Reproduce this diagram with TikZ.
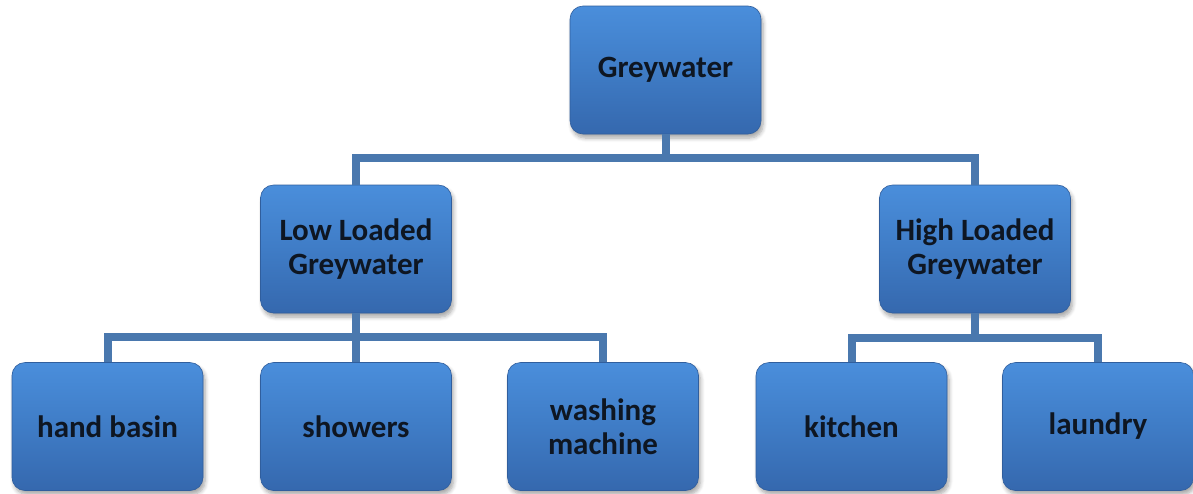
\documentclass[tikz,border=0pt]{standalone}
\usepackage{fontspec}
\setmainfont{Carlito}
\usetikzlibrary{shadows.blur}
\definecolor{boxtop}{HTML}{4A8EDB}
\definecolor{boxmid}{HTML}{3F7CC6}
\definecolor{boxbot}{HTML}{3568AE}
\definecolor{linecol}{HTML}{4A78AE}
\definecolor{txt}{HTML}{0E1622}
\tikzset{
  x=1pt, y=-1pt,
  box/.style={rectangle, rounded corners=13pt, minimum width=191pt, minimum height=128pt,
    top color=boxtop, bottom color=boxbot, middle color=boxmid, draw=boxbot!90!black, line width=0.6pt,
    blur shadow={shadow xshift=2pt, shadow yshift=-4pt, shadow blur steps=6, shadow blur radius=4pt, shadow opacity=35},
    align=center, text=txt, font=\fontsize{31}{34}\selectfont\bfseries, inner sep=0pt},
  conn/.style={draw=linecol, line width=8pt}
}
\begin{document}
\begin{tikzpicture}
\useasboundingbox (0,0) rectangle (1193,493);
\coordinate (b1) at (665.5,158);
\coordinate (b2) at (356,337);
\coordinate (b3) at (975,338);
\node[box] (gw) at (665.5,70) {Greywater};
\node[box] (low) at (356,249) {Low Loaded\\Greywater};
\node[box] (high) at (975,249) {High Loaded\\Greywater};
\node[box] (hb) at (107.5,426.5) {hand basin};
\node[box] (sh) at (356,426.5) {showers};
\node[box] (wm) at (603,426.5) {washing\\machine};
\node[box] (ki) at (851.5,426.5) {kitchen};
\node[box] (la) at (1098,426.5) {laundry};
\draw[conn] (gw.south) -- (b1);
\draw[conn] (b1) -| (low.north);
\draw[conn] (b1) -| (high.north);
\draw[conn] (low.south) -- (b2);
\draw[conn] (b2) -| (hb.north);
\draw[conn] (b2) -| (wm.north);
\draw[conn] (b2) -- (sh.north);
\draw[conn] (high.south) -- (b3);
\draw[conn] (b3) -| (ki.north);
\draw[conn] (b3) -| (la.north);
\end{tikzpicture}
\end{document}
